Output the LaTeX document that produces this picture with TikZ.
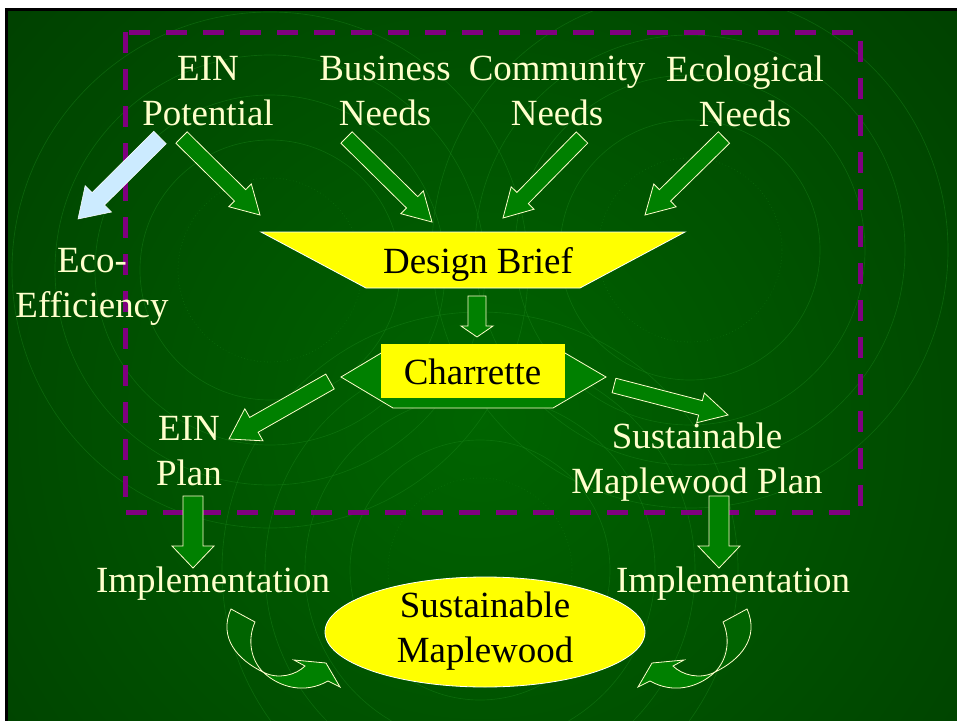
\documentclass[tikz,border=0pt]{standalone}
\usepackage{fontspec}
\setmainfont{Liberation Serif}
\usetikzlibrary{calc}
\definecolor{cream}{HTML}{FFFFCC}
\definecolor{agreen}{HTML}{008000}
\definecolor{cgreen}{HTML}{006400}
\definecolor{lblue}{HTML}{CCEBFF}
\definecolor{dpurple}{HTML}{800080}
\definecolor{yfill}{HTML}{FFFF00}
\definecolor{bginner}{HTML}{006400}
\definecolor{bgouter}{HTML}{003A00}
\definecolor{ring}{HTML}{1C8A1C}
\newcommand{\blockarrow}[6]{%
  \coordinate (bah) at ($(#3)!#6!(#2)$);
  \draw[#1] ($(#2)!#4!90:(#3)$) -- ($(bah)!#4!90:(#3)$) -- ($(bah)!#5!90:(#3)$) -- (#3)
    -- ($(bah)!#5!-90:(#3)$) -- ($(bah)!#4!-90:(#3)$) -- ($(#2)!#4!-90:(#3)$) -- cycle;}
\begin{document}
\begin{tikzpicture}[x=0.75pt,y=-0.75pt,
  lbl/.style={text=cream, font=\fontsize{27.7}{33.75}\selectfont, align=center, inner sep=0pt},
  dark/.style={text=black, font=\fontsize{27.7}{33.75}\selectfont, align=center, inner sep=0pt},
  garrow/.style={fill=agreen, draw=cream, line width=0.6pt, line join=miter},
  barrow/.style={fill=lblue, draw=white, line width=0.4pt, line join=miter},
  yshape/.style={fill=yfill, draw=white, line width=0.6pt},
  hexshape/.style={fill=agreen, draw=cream, line width=0.6pt},
  curvback/.style={fill=cgreen, draw=cream, line width=0.6pt},
  curvfront/.style={fill=agreen, draw=cream, line width=0.6pt, line join=miter},
  ringline/.style={draw=ring, line width=0.5pt, opacity=0.4},
  dashbox/.style={draw=dpurple, line width=3.75pt, dash pattern=on 15.75pt off 12pt},
  curvearrow/.pic={
    \draw[curvback] (231,609) -- (255,622)
      .. controls (247,640) and (251,660) .. (263,672)
      .. controls (238,660) and (218,638) .. (231,609) -- cycle;
    \draw[curvfront] (263,672)
      .. controls (278,680) and (296,675) .. (305,666)
      -- (294,660) -- (326,663) -- (340,687) -- (328,681)
      .. controls (305,694) and (280,688) .. (263,672) -- cycle;
  }]
\useasboundingbox (0,0) rectangle (957,721);
% frame and background
\fill[white] (0,0) rectangle (957,721);
\fill[black] (5,8) rectangle (957,721);
\begin{scope}
  \clip (8,11) rectangle (957,721);
  \fill[bgouter] (8,11) rectangle (957,721);
  \shade[inner color=bginner, outer color=bgouter] (480,420) circle (760);
  \foreach \r in {130,175,215,258} {\draw[ringline] (270,270) circle (\r);}
  \draw[ringline, dotted] (270,270) circle (92);
  \foreach \r in {130,175,215,258} {\draw[ringline] (690,250) circle (\r);}
  \draw[ringline, dotted] (690,250) circle (92);
  \foreach \r in {130,175,215,258} {\draw[ringline] (480,570) circle (\r);}
  \draw[ringline, dotted] (480,570) circle (92);
\end{scope}
% dashed frame
\draw[dashbox] (125,32) rectangle (860,512);
% top labels
\node[lbl] (ein) at (208,91.3) {EIN\\Potential};
\node[lbl] (bus) at (385,91.3) {Business\\Needs};
\node[lbl] (com) at (557,91.3) {Community\\Needs};
\node[lbl] (eco) at (745,91.6) {Ecological\\Needs};
% arrow coordinates
\coordinate (a1s) at (181.5,137.5); \coordinate (a1e) at (260,215);
\coordinate (a2s) at (346.5,137.5); \coordinate (a2e) at (432,222);
\coordinate (a3s) at (582,137.5);   \coordinate (a3e) at (503,218);
\coordinate (a4s) at (724,137.5);   \coordinate (a4e) at (645,215);
\coordinate (a5s) at (160,137.5);   \coordinate (a5e) at (78,219);
\coordinate (a6s) at (477,296);     \coordinate (a6e) at (477,337);
\coordinate (a7s) at (330,381.5);   \coordinate (a7e) at (229,439);
\coordinate (a8s) at (614,385.5);   \coordinate (a8e) at (728,415);
\coordinate (a9s) at (193,496);     \coordinate (a9e) at (193,568);
\coordinate (a10s) at (719,496);    \coordinate (a10e) at (719,568);
\blockarrow{garrow}{a1s}{a1e}{6pt}{12pt}{21pt}
\blockarrow{garrow}{a2s}{a2e}{6pt}{12pt}{21pt}
\blockarrow{garrow}{a3s}{a3e}{6pt}{12pt}{21pt}
\blockarrow{garrow}{a4s}{a4e}{6pt}{12pt}{21pt}
\blockarrow{barrow}{a5s}{a5e}{6.6pt}{14pt}{21.5pt}
% design brief
\draw[yshape] (261,232) -- (685,232) -- (580,288) -- (366,288) -- cycle;
\node[dark, anchor=base] (db) at (478,273) {Design Brief};
\blockarrow{garrow}{a6s}{a6e}{6.75pt}{12pt}{8.25pt}
% charrette
\draw[hexshape] (341,377) -- (393,346) -- (553,346) -- (606,377) -- (553,408) -- (393,408) -- cycle;
\fill[yfill] (381,344) rectangle (565,398);
\node[dark, anchor=base] (ch) at (472.5,384) {Charrette};
\blockarrow{garrow}{a7s}{a7e}{6.4pt}{13.8pt}{21.5pt}
\blockarrow{garrow}{a8s}{a8e}{5.6pt}{11.5pt}{21.3pt}
% middle labels
\node[lbl] (eff) at (92,287) {Eco-\\Efficiency};
\node[lbl] (einplan) at (189,451.5) {EIN\\Plan};
\node[lbl] (smp) at (697,462) {Sustainable\\Maplewood Plan};
\blockarrow{garrow}{a9s}{a9e}{7.5pt}{15.75pt}{16.5pt}
\blockarrow{garrow}{a10s}{a10e}{7.5pt}{15.75pt}{16.5pt}
\node[lbl, anchor=base] (impl1) at (213,592) {Implementation};
\node[lbl, anchor=base] (impl2) at (733,592) {Implementation};
% goal
\draw[yshape] (485,632) ellipse (160 and 55);
\node[dark] (sm) at (485,631) {Sustainable\\Maplewood};
% curved arrows
\pic at (0,0) {curvearrow};
\pic[xscale=-1] at (978,0) {curvearrow};
\end{tikzpicture}
\end{document}
